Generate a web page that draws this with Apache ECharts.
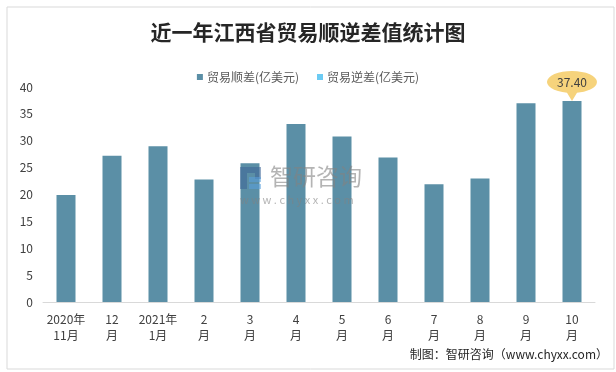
<!DOCTYPE html>
<html><head><meta charset="utf-8">
<script src="https://cdn.jsdelivr.net/npm/echarts@6/dist/echarts.min.js"></script>
<style>html,body{margin:0;padding:0;background:#fff}#c{width:616px;height:372px}</style>
</head><body><div id="c"></div>
<script>
var categories = ["2020年\n11月","12\n月","2021年\n1月","2\n月","3\n月","4\n月","5\n月","6\n月","7\n月","8\n月","9\n月","10\n月"];
var surplus = [19.9, 27.2, 29.0, 22.8, 25.8, 33.1, 30.8, 26.9, 21.9, 23.0, 37.0, 37.4];
var deficit = [];
var seriesNames = ["贸易顺差(亿美元)", "贸易逆差(亿美元)"];
var titleText = "近一年江西省贸易顺逆差值统计图";
var sourceText = "制图：智研咨询（www.chyxx.com）";

var chart = echarts.init(document.getElementById('c'));
var font = '"Noto Sans CJK SC", "Noto Sans", sans-serif';
var wmZ = 100;
chart.setOption({
  backgroundColor: '#fff',
  textStyle: {fontFamily: font},
  title: {text: titleText, left: 'center', top: 17,
    textStyle: {fontSize: 21, fontWeight: 'bold', color: '#262626', fontFamily: font}},
  legend: {top: 66, left: 'center', itemWidth: 6, itemHeight: 6, itemGap: 18,
    icon: 'rect', textStyle: {fontSize: 12, color: '#595959', padding: [0,0,0,-1]},
    data: seriesNames},
  grid: {left: 43, right: 21, top: 87, bottom: 70},
  xAxis: {type: 'category', data: categories,
    axisLine: {lineStyle: {color: '#D9D9D9'}}, axisTick: {show: false},
    axisLabel: {interval: 0, fontSize: 12, color: '#404040', lineHeight: 16, margin: 9}},
  yAxis: {type: 'value', min: 0, max: 40, interval: 5,
    axisLine: {show: false}, axisTick: {show: false}, splitLine: {show: false},
    axisLabel: {fontSize: 12, color: '#404040', margin: 10}},
  graphic: [
    {type: 'rect', left: 4.5, top: 4.5, shape: {width: 607, height: 362},
      style: {fill: 'none', stroke: '#D9D9D9', lineWidth: 1}, z: 0},
    {type: 'text', right: 8, top: 348, style: {text: sourceText, font: '12px ' + font, fill: '#262626'}},
    {type: 'group', left: 240, top: 165, z: wmZ, children: [
      {type: 'rect', z: wmZ, shape: {x: 0, y: 0, width: 7, height: 22}, style: {fill: 'rgba(60,100,150,0.55)'}},
      {type: 'rect', z: wmZ, shape: {x: 7, y: 0, width: 14, height: 6}, style: {fill: 'rgba(60,100,150,0.55)'}},
      {type: 'rect', z: wmZ, shape: {x: 15, y: 6, width: 6, height: 6}, style: {fill: 'rgba(60,100,150,0.55)'}},
      {type: 'rect', z: wmZ, shape: {x: 9, y: 10, width: 12, height: 5}, style: {fill: 'rgba(90,160,220,0.55)'}},
      {type: 'rect', z: wmZ, shape: {x: 9, y: 17, width: 12, height: 5}, style: {fill: 'rgba(90,160,220,0.55)'}},
      {type: 'text', z: wmZ, x: 30, y: -2, style: {text: '智研咨询', font: '23px ' + font, fill: 'rgba(130,130,130,0.6)'}},
      {type: 'text', z: wmZ, x: 0, y: 27, style: {text: 'w w w . c h y x x . c o m', font: '11px ' + font, fill: 'rgba(130,130,130,0.6)'}}
    ]}
  ],
  series: [
    {name: seriesNames[0], type: 'bar', stack: 'a', data: surplus, barWidth: 19,
      itemStyle: {color: '#5B8FA6'},
      markPoint: {
        data: [{type: 'max'}],
        symbol: 'path://M20,21.8 A25,11 0 1,1 30,21.8 L25,30 Z',
        symbolSize: [50, 30], symbolOffset: [0, '-50%'],
        itemStyle: {color: '#F6D37C'},
        label: {show: true, offset: [0, -4], fontSize: 12, color: '#404040',
          formatter: function(p){ return p.value.toFixed(2); }}
      }},
    {name: seriesNames[1], type: 'bar', stack: 'a', data: deficit, barWidth: 19,
      itemStyle: {color: '#6CCBF3'}}
  ]
});
</script></body></html>
